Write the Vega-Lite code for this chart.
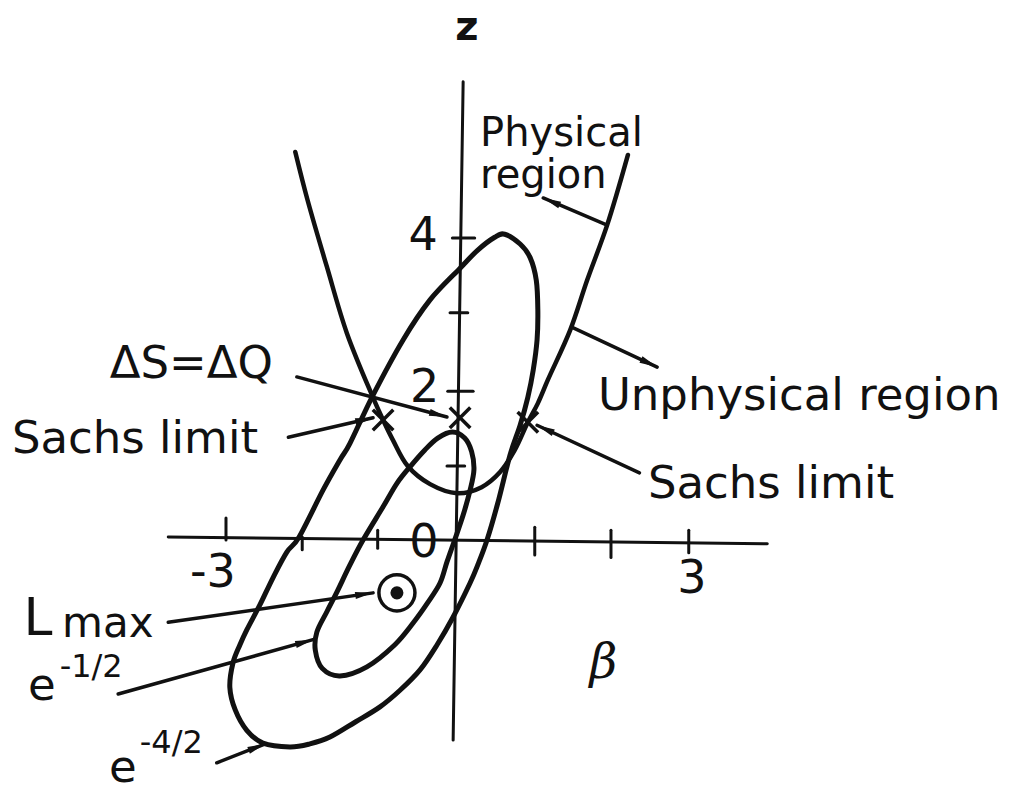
{
  "$schema": "https://vega.github.io/schema/vega-lite/v6.json",
  "width": 1021,
  "height": 795,
  "padding": 0,
  "autosize": {"type": "fit", "contains": "padding"},
  "background": "white",
  "config": {"view": {"stroke": null}},
  "datasets": {
    "parabola": [
      {"i": 1, "b": -2.10, "z": 5.14}, {"i": 2, "b": -1.94, "z": 4.50}, {"i": 3, "b": -1.69, "z": 3.62},
      {"i": 4, "b": -1.43, "z": 2.74}, {"i": 5, "b": -1.10, "z": 1.91}, {"i": 6, "b": -0.96, "z": 1.59},
      {"i": 7, "b": -0.83, "z": 1.32}, {"i": 8, "b": -0.64, "z": 0.98}, {"i": 9, "b": -0.35, "z": 0.74},
      {"i": 10, "b": 0.00, "z": 0.62}, {"i": 11, "b": 0.32, "z": 0.70}, {"i": 12, "b": 0.56, "z": 0.90},
      {"i": 13, "b": 0.75, "z": 1.19}, {"i": 14, "b": 0.92, "z": 1.56}, {"i": 15, "b": 1.05, "z": 1.81},
      {"i": 16, "b": 1.18, "z": 2.12}, {"i": 17, "b": 1.47, "z": 2.78}, {"i": 18, "b": 1.69, "z": 3.44},
      {"i": 19, "b": 1.95, "z": 4.17}, {"i": 20, "b": 2.22, "z": 5.10}
    ],
    "contours": [
      {"c": "e-4/2", "i": 1, "b": 0.62, "z": 4.05}, {"c": "e-4/2", "i": 2, "b": 0.82, "z": 3.92},
      {"c": "e-4/2", "i": 3, "b": 0.95, "z": 3.74}, {"c": "e-4/2", "i": 4, "b": 1.03, "z": 3.44},
      {"c": "e-4/2", "i": 5, "b": 1.05, "z": 3.05}, {"c": "e-4/2", "i": 6, "b": 1.04, "z": 2.65},
      {"c": "e-4/2", "i": 7, "b": 0.99, "z": 2.25}, {"c": "e-4/2", "i": 8, "b": 0.92, "z": 1.89},
      {"c": "e-4/2", "i": 9, "b": 0.82, "z": 1.52}, {"c": "e-4/2", "i": 10, "b": 0.69, "z": 1.13},
      {"c": "e-4/2", "i": 11, "b": 0.53, "z": 0.49}, {"c": "e-4/2", "i": 12, "b": 0.39, "z": 0.00},
      {"c": "e-4/2", "i": 13, "b": 0.27, "z": -0.33}, {"c": "e-4/2", "i": 14, "b": 0.17, "z": -0.57},
      {"c": "e-4/2", "i": 15, "b": -0.05, "z": -1.02}, {"c": "e-4/2", "i": 16, "b": -0.26, "z": -1.39},
      {"c": "e-4/2", "i": 17, "b": -0.48, "z": -1.72}, {"c": "e-4/2", "i": 18, "b": -0.74, "z": -1.99},
      {"c": "e-4/2", "i": 19, "b": -1.00, "z": -2.21}, {"c": "e-4/2", "i": 20, "b": -1.32, "z": -2.41},
      {"c": "e-4/2", "i": 21, "b": -1.65, "z": -2.61}, {"c": "e-4/2", "i": 22, "b": -1.91, "z": -2.70},
      {"c": "e-4/2", "i": 23, "b": -2.17, "z": -2.74}, {"c": "e-4/2", "i": 24, "b": -2.52, "z": -2.69},
      {"c": "e-4/2", "i": 25, "b": -2.73, "z": -2.52}, {"c": "e-4/2", "i": 26, "b": -2.88, "z": -2.25},
      {"c": "e-4/2", "i": 27, "b": -2.95, "z": -1.95}, {"c": "e-4/2", "i": 28, "b": -2.91, "z": -1.63},
      {"c": "e-4/2", "i": 29, "b": -2.82, "z": -1.39}, {"c": "e-4/2", "i": 30, "b": -2.73, "z": -1.19},
      {"c": "e-4/2", "i": 31, "b": -2.56, "z": -0.86}, {"c": "e-4/2", "i": 32, "b": -2.39, "z": -0.50},
      {"c": "e-4/2", "i": 33, "b": -2.21, "z": -0.16}, {"c": "e-4/2", "i": 34, "b": -2.05, "z": 0.04},
      {"c": "e-4/2", "i": 35, "b": -1.74, "z": 0.66}, {"c": "e-4/2", "i": 36, "b": -1.52, "z": 1.06},
      {"c": "e-4/2", "i": 37, "b": -1.39, "z": 1.28}, {"c": "e-4/2", "i": 38, "b": -1.09, "z": 1.92},
      {"c": "e-4/2", "i": 39, "b": -0.70, "z": 2.65}, {"c": "e-4/2", "i": 40, "b": -0.35, "z": 3.18},
      {"c": "e-4/2", "i": 41, "b": 0.04, "z": 3.60}, {"c": "e-4/2", "i": 42, "b": 0.27, "z": 3.84},
      {"c": "e-4/2", "i": 43, "b": 0.49, "z": 4.01},
      {"c": "e-1/2", "i": 1, "b": -0.06, "z": 1.43}, {"c": "e-1/2", "i": 2, "b": 0.10, "z": 1.35},
      {"c": "e-1/2", "i": 3, "b": 0.19, "z": 1.17}, {"c": "e-1/2", "i": 4, "b": 0.22, "z": 0.93},
      {"c": "e-1/2", "i": 5, "b": 0.17, "z": 0.66}, {"c": "e-1/2", "i": 6, "b": 0.08, "z": 0.33},
      {"c": "e-1/2", "i": 7, "b": -0.03, "z": 0.00}, {"c": "e-1/2", "i": 8, "b": -0.13, "z": -0.29},
      {"c": "e-1/2", "i": 9, "b": -0.22, "z": -0.57}, {"c": "e-1/2", "i": 10, "b": -0.38, "z": -0.83},
      {"c": "e-1/2", "i": 11, "b": -0.57, "z": -1.10}, {"c": "e-1/2", "i": 12, "b": -0.81, "z": -1.39},
      {"c": "e-1/2", "i": 13, "b": -1.17, "z": -1.68}, {"c": "e-1/2", "i": 14, "b": -1.52, "z": -1.80},
      {"c": "e-1/2", "i": 15, "b": -1.75, "z": -1.70}, {"c": "e-1/2", "i": 16, "b": -1.84, "z": -1.46},
      {"c": "e-1/2", "i": 17, "b": -1.82, "z": -1.22}, {"c": "e-1/2", "i": 18, "b": -1.69, "z": -0.95},
      {"c": "e-1/2", "i": 19, "b": -1.56, "z": -0.69}, {"c": "e-1/2", "i": 20, "b": -1.39, "z": -0.33},
      {"c": "e-1/2", "i": 21, "b": -1.22, "z": 0.00}, {"c": "e-1/2", "i": 22, "b": -0.96, "z": 0.44},
      {"c": "e-1/2", "i": 23, "b": -0.78, "z": 0.75}, {"c": "e-1/2", "i": 24, "b": -0.61, "z": 0.97},
      {"c": "e-1/2", "i": 25, "b": -0.42, "z": 1.19}, {"c": "e-1/2", "i": 26, "b": -0.25, "z": 1.35}
    ],
    "axes": [
      {"b": -3.75, "z": 0.04, "b2": 4.03, "z2": -0.05},
      {"b": 0.08, "z": 6.07, "b2": -0.05, "z2": -2.65},
      {"b": -3.00, "z": 0.29, "b2": -3.00, "z2": 0.00},
      {"b": -2.01, "z": 0.04, "b2": -2.01, "z2": -0.13},
      {"b": -1.03, "z": 0.13, "b2": -1.03, "z2": -0.11},
      {"b": 1.01, "z": 0.17, "b2": 1.01, "z2": -0.20},
      {"b": 2.00, "z": 0.13, "b2": 2.00, "z2": -0.23},
      {"b": 3.01, "z": 0.13, "b2": 3.01, "z2": -0.17},
      {"b": -0.06, "z": 4.00, "b2": 0.23, "z2": 4.00},
      {"b": -0.09, "z": 3.01, "b2": 0.14, "z2": 3.01},
      {"b": -0.12, "z": 1.97, "b2": 0.21, "z2": 1.97},
      {"b": -0.13, "z": 0.98, "b2": 0.10, "z2": 0.98}
    ],
    "leaders": [
      {"to": "Physical region", "b": 1.95, "z": 4.17, "b2": 1.12, "z2": 4.53},
      {"to": "Unphysical region", "b": 1.49, "z": 2.82, "b2": 2.60, "z2": 2.29},
      {"to": "ΔS=ΔQ", "b": -2.08, "z": 2.16, "b2": -0.13, "z2": 1.63},
      {"to": "Sachs limit (left)", "b": -2.19, "z": 1.36, "b2": -1.09, "z2": 1.62},
      {"to": "Sachs limit (right)", "b": 2.37, "z": 0.89, "b2": 1.04, "z2": 1.52},
      {"to": "Lmax", "b": -3.75, "z": -1.09, "b2": -1.09, "z2": -0.70},
      {"to": "e-1/2", "b": -4.40, "z": -2.04, "b2": -1.87, "z2": -1.32},
      {"to": "e-4/2", "b": -3.12, "z": -2.95, "b2": -2.49, "z2": -2.70}
    ],
    "crosses": [
      {"what": "Sachs limit", "b": -0.96, "z": 1.59},
      {"what": "Sachs limit", "b": 0.92, "z": 1.56},
      {"what": "ΔS=ΔQ", "b": 0.04, "z": 1.62}
    ],
    "lmax": [{"b": -0.78, "z": -0.70}],
    "wordsLarge": [
      {"t": "Unphysical region", "b": 1.83, "z": 1.72},
      {"t": "Sachs limit", "b": -5.78, "z": 1.15},
      {"t": "Sachs limit", "b": 2.48, "z": 0.56},
      {"t": "ΔS=ΔQ", "b": -4.51, "z": 2.15},
      {"t": "e", "b": -5.57, "z": -2.12},
      {"t": "e", "b": -4.52, "z": -3.21}
    ],
    "wordsMid": [
      {"t": "Physical", "b": 0.30, "z": 5.22},
      {"t": "region", "b": 0.30, "z": 4.66}
    ],
    "lmaxLabel": [
      {"t": "L", "b": -5.63, "z": -1.26}
    ],
    "lmaxSub": [
      {"t": "max", "b": -5.13, "z": -1.28}
    ],
    "wordsSmall": [
      {"t": "-1/2", "b": -5.16, "z": -1.81},
      {"t": "-4/2", "b": -4.12, "z": -2.82}
    ],
    "numbers": [
      {"t": "4", "b": -0.44, "z": 3.84},
      {"t": "2", "b": -0.42, "z": 1.83},
      {"t": "0", "b": -0.43, "z": -0.23},
      {"t": "-3", "b": -3.17, "z": -0.62},
      {"t": "3", "b": 3.05, "z": -0.70}
    ],
    "zLabel": [{"t": "z", "b": 0.13, "z": 6.62}],
    "beta": [{"t": "β", "b": 1.90, "z": -1.83}]
  },
  "encoding": {
    "x": {"field": "b", "type": "quantitative", "axis": null, "scale": {"domain": [-5.935, 7.325], "nice": false, "zero": false}},
    "y": {"field": "z", "type": "quantitative", "axis": null, "scale": {"domain": [-3.377, 7.152], "nice": false, "zero": false}}
  },
  "layer": [
    {
      "data": {"name": "axes"},
      "mark": {"type": "rule", "color": "#111", "strokeWidth": 3, "strokeCap": "round"},
      "encoding": {"x2": {"field": "b2"}, "y2": {"field": "z2"}}
    },
    {
      "data": {"name": "parabola"},
      "mark": {"type": "line", "color": "#111", "strokeWidth": 4.5, "interpolate": "catmull-rom", "strokeCap": "round"},
      "encoding": {"order": {"field": "i", "type": "quantitative"}}
    },
    {
      "data": {"name": "contours"},
      "mark": {"type": "line", "color": "#111", "strokeWidth": 5, "interpolate": "cardinal-closed", "tension": 0},
      "encoding": {"detail": {"field": "c"}, "order": {"field": "i", "type": "quantitative"}}
    },
    {
      "data": {"name": "leaders"},
      "mark": {"type": "rule", "color": "#111", "strokeWidth": 3.5, "strokeCap": "round"},
      "encoding": {"x2": {"field": "b2"}, "y2": {"field": "z2"}}
    },
    {
      "data": {"name": "leaders"},
      "transform": [{"calculate": "atan2(77 * (datum.b2 - datum.b), 75.5 * (datum.z2 - datum.z)) * 180 / PI", "as": "ang"}],
      "mark": {"type": "point", "shape": "M0,0L-0.4,2L0.4,2Z", "filled": true, "color": "#111", "opacity": 1, "size": 320},
      "encoding": {
        "x": {"field": "b2", "type": "quantitative", "axis": null, "scale": {"domain": [-5.935, 7.325], "nice": false, "zero": false}},
        "y": {"field": "z2", "type": "quantitative", "axis": null, "scale": {"domain": [-3.377, 7.152], "nice": false, "zero": false}},
        "angle": {"field": "ang", "type": "quantitative", "scale": null}
      }
    },
    {
      "data": {"name": "crosses"},
      "mark": {"type": "point", "shape": "M-1,-1L1,1M1,-1L-1,1", "filled": false, "color": "#111", "opacity": 1, "strokeWidth": 3.5, "size": 420}
    },
    {
      "data": {"name": "lmax"},
      "mark": {"type": "point", "shape": "circle", "filled": false, "color": "#111", "opacity": 1, "strokeWidth": 3.5, "size": 1300}
    },
    {
      "data": {"name": "lmax"},
      "mark": {"type": "point", "shape": "circle", "filled": true, "color": "#111", "opacity": 1, "size": 170}
    },
    {
      "data": {"name": "wordsLarge"},
      "mark": {"type": "text", "font": "DejaVu Sans", "fontSize": 45, "align": "left", "baseline": "alphabetic", "color": "#111"},
      "encoding": {"text": {"field": "t"}}
    },
    {
      "data": {"name": "wordsMid"},
      "mark": {"type": "text", "font": "DejaVu Sans", "fontSize": 40, "align": "left", "baseline": "alphabetic", "color": "#111"},
      "encoding": {"text": {"field": "t"}}
    },
    {
      "data": {"name": "lmaxLabel"},
      "mark": {"type": "text", "font": "DejaVu Sans", "fontSize": 52, "align": "left", "baseline": "alphabetic", "color": "#111"},
      "encoding": {"text": {"field": "t"}}
    },
    {
      "data": {"name": "lmaxSub"},
      "mark": {"type": "text", "font": "DejaVu Sans", "fontSize": 42, "align": "left", "baseline": "alphabetic", "color": "#111"},
      "encoding": {"text": {"field": "t"}}
    },
    {
      "data": {"name": "wordsSmall"},
      "mark": {"type": "text", "font": "DejaVu Sans", "fontSize": 32, "align": "left", "baseline": "alphabetic", "color": "#111"},
      "encoding": {"text": {"field": "t"}}
    },
    {
      "data": {"name": "numbers"},
      "mark": {"type": "text", "font": "DejaVu Sans", "fontSize": 46, "align": "center", "baseline": "alphabetic", "color": "#111"},
      "encoding": {"text": {"field": "t"}}
    },
    {
      "data": {"name": "zLabel"},
      "mark": {"type": "text", "font": "DejaVu Sans", "fontSize": 40, "fontWeight": "bold", "align": "center", "baseline": "alphabetic", "color": "#111"},
      "encoding": {"text": {"field": "t"}}
    },
    {
      "data": {"name": "beta"},
      "mark": {"type": "text", "font": "DejaVu Serif", "fontStyle": "italic", "fontSize": 48, "align": "center", "baseline": "alphabetic", "color": "#111"},
      "encoding": {"text": {"field": "t"}}
    }
  ]
}
